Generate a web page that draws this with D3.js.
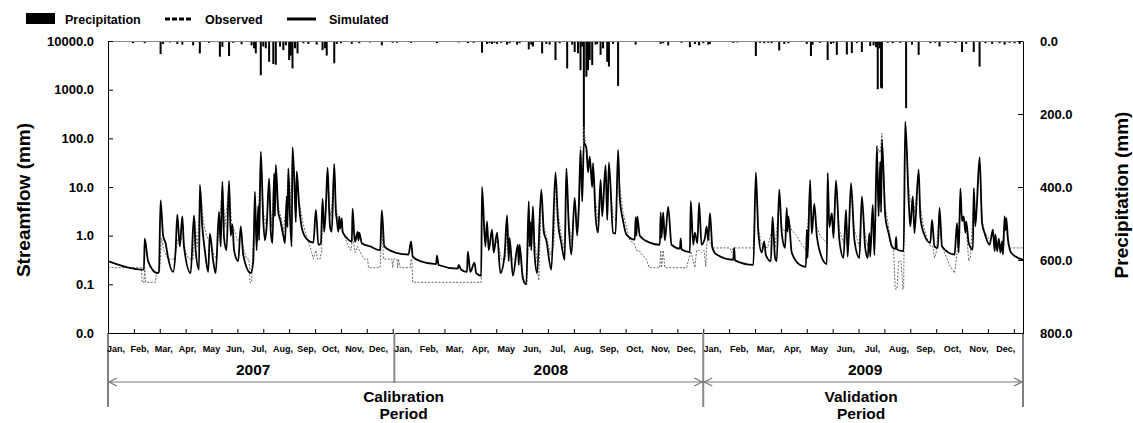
<!DOCTYPE html>
<html lang="en">
<head>
<meta charset="UTF-8">
<title>Streamflow</title>
<style>
    body { margin: 0; background: #fff; }
    svg text { font-family: Arial, "Liberation Sans", sans-serif; font-weight: bold; }
</style>
</head>
<body>
<svg width="1133" height="423"></svg>
<script src="https://cdn.jsdelivr.net/npm/d3@7"></script>
<script>
// day index, 0 = first day of 2007
var simulated = [
    [0,0.30],[42,0.20],[43,0.20],[44,0.87],[48,0.30],[59,0.17],[61,0.18],[63,5.3],[66,1.0],[69,0.7],[72,0.35],
    [78,0.18],[81,0.5],[83,2.7],[86,0.6],[89,2.5],[91,0.6],[99,0.17],[103,2.6],[105,0.5],[109,0.2],[110,11],
    [113,1.5],[116,0.5],[120,0.18],[122,1.1],[126,0.3],[129,0.17],[133,3.1],[135,0.6],[137,12.8],[139,0.9],
    [142,0.5],[145,13.4],[147,1.0],[149,1.7],[151,0.5],[156,0.3],[159,1.55],[162,0.4],[171,0.17],[174,0.3],
    [176,8],[178,0.5],[180,4.1],[181,0.8],[183,53],[186,2],[188,0.8],[190,1.5],[193,15],[195,1.2],[197,0.7],
    [199,19],[200,2.5],[201,28.6],[204,3],[206,2.2],[210,1.0],[212,0.7],[214,6.3],[215,1.5],[216,24],[218,2.5],
    [220,0.6],[221,65],[223,16],[225,1.9],[226,21],[229,4],[232,1.5],[237,0.9],[246,0.72],[249,3.4],[252,0.65],
    [255,0.7],[257,5.7],[259,1.2],[261,4],[263,25],[265,3],[266,1.5],[268,1.2],[271,30],[273,3],[274,2.2],
    [276,1.2],[277,2.5],[278,1.4],[280,2.3],[281,1.2],[286,0.9],[292,0.75],[293,3.6],[295,1.0],[296,0.75],
    [299,1.2],[300,0.8],[301,1.15],[304,0.7],[314,0.6],[326,0.5],[328,3.3],[331,0.6],[344,0.45],[360,0.41],
    [363,0.76],[365,0.37],[374,0.30],[393,0.26],[394,0.39],[396,0.25],[419,0.21],[420,0.25],[423,0.2],
    [430,0.18],[431,0.47],[434,0.18],[439,0.28],[441,0.17],[447,0.15],[448,10],[452,0.6],[454,1.97],[456,0.5],
    [460,1.33],[462,0.45],[466,1.15],[470,0.17],[475,0.4],[478,2.6],[480,0.3],[481,0.9],[485,0.15],[491,0.65],
    [492,0.25],[493,0.65],[497,0.13],[501,0.1],[504,5.1],[505,0.6],[506,1.9],[507,0.5],[509,4.0],[511,0.4],
    [514,0.17],[519,8.8],[522,1.2],[525,0.8],[531,0.2],[536,20],[539,2],[543,0.7],[547,0.32],[549,24],[552,1.5],
    [555,0.41],[559,6],[562,1.0],[564,4],[566,58],[568,5],[570,80],[573,64],[575,20],[577,42],[580,10],[581,31],
    [584,2.5],[587,1.15],[590,14],[592,2.5],[596,28],[598,2.1],[600,32],[605,1.15],[608,1.1],[611,58],[613,6],
    [617,2],[621,1.05],[631,0.83],[632,2.4],[633,1.0],[634,2.5],[637,1.0],[649,0.72],[661,0.65],[662,3.0],
    [663,0.9],[665,3.0],[667,0.8],[671,3.9],[675,0.65],[685,0.54],[686,0.88],[687,0.52],[697,0.46],[698,5.1],
    [701,0.65],[703,1.15],[706,0.7],[708,4.7],[711,0.65],[715,0.9],[717,1.55],[719,0.8],[721,2.9],[724,0.56],
    [729,0.41],[749,0.32],[750,0.56],[751,0.31],[773,0.25],[776,20],[779,1.15],[783,0.45],[786,0.76],[788,0.4],
    [794,0.30],[796,2.4],[799,0.35],[801,0.3],[804,8.8],[807,1.15],[811,0.56],[813,3.7],[814,1.2],[815,2.5],
    [819,0.45],[829,0.25],[836,0.23],[837,1.33],[838,0.35],[841,14],[843,1.1],[846,4.5],[849,1.0],[853,0.45],
    [861,0.26],[862,19.5],[864,1.5],[867,2.9],[869,0.9],[872,13.7],[876,0.83],[881,0.35],[884,3.4],[886,0.37],
    [890,12],[894,0.83],[900,0.35],[903,6.4],[907,0.56],[910,0.35],[912,1.13],[913,0.37],[916,4.3],[918,0.4],
    [921,70],[923,2.5],[925,33],[926,3],[927,94],[931,2.5],[935,1.13],[939,0.6],[943,0.53],[944,0.94],[945,0.52],
    [953,0.48],[955,220],[959,5.5],[961,1.55],[964,6.4],[966,1.13],[971,22.6],[973,2.5],[977,1.13],[985,0.71],
    [987,2.1],[990,0.6],[994,0.56],[996,3.7],[999,0.6],[1014,0.41],[1017,1.8],[1019,0.45],[1021,9.2],[1023,2],
    [1025,2.5],[1027,1.15],[1028,1.97],[1031,0.7],[1036,0.52],[1037,9.5],[1039,1.6],[1044,41],[1047,1.8],
    [1050,1.13],[1056,0.65],[1060,1.33],[1062,0.48],[1063,1.05],[1065,0.48],[1067,0.87],[1069,0.45],[1071,0.76],
    [1072,0.41],[1074,2.5],[1075,1.3],[1076,2.3],[1078,0.83],[1082,0.44],[1096,0.32]
]

var observed = [
    [0,0.11],[1,0.22],[40,0.22],[41,0.11],[43,0.11],[44,0.22],[45,0.11],[57,0.11],[58,0.17],[62,0.2],[64,0.9],
    [67,0.5],[70,0.4],[72,0.33],[80,0.33],[81,0.45],[84,0.9],[87,0.8],[90,0.95],[93,0.45],[97,0.33],[102,0.33],
    [104,2.0],[107,0.6],[111,8],[114,2],[118,1.0],[121,0.8],[124,0.6],[127,0.4],[130,0.33],[134,2.5],[137,10],
    [140,1.5],[145,11],[148,1.8],[150,1.5],[155,0.8],[159,1.0],[163,0.5],[166,0.33],[169,0.33],[170,0.11],
    [172,0.11],[173,0.3],[176,5],[178,0.8],[180,3],[183,40],[186,3],[190,1.5],[193,12],[196,1.5],[199,15],
    [201,25],[204,4],[207,2.5],[210,1.2],[214,5],[216,20],[218,3],[221,60],[223,18],[225,3],[226,15],[229,5],
    [233,2],[238,0.9],[242,0.6],[244,0.45],[246,0.33],[249,0.5],[251,0.33],[254,0.33],[256,0.5],[257,3],
    [259,1.5],[261,3],[263,20],[265,4],[267,2.5],[271,25],[273,4],[276,2],[280,1.5],[284,0.9],[288,0.6],
    [291,0.5],[293,0.9],[296,0.45],[299,0.6],[301,0.5],[304,0.4],[307,0.33],[311,0.33],[312,0.22],[326,0.22],
    [328,1.5],[330,0.33],[340,0.33],[341,0.22],[342,0.33],[346,0.33],[347,0.22],[348,0.33],[350,0.22],
    [362,0.22],[363,0.33],[364,0.33],[365,0.11],[447,0.11],[448,6],[451,1.0],[454,1.5],[456,0.7],[460,1.0],
    [463,0.6],[466,0.8],[469,0.5],[471,0.33],[476,0.33],[478,2.0],[481,0.7],[484,0.33],[488,0.33],[491,0.45],
    [493,0.4],[496,0.2],[499,0.1],[502,0.1],[504,3],[506,1.5],[509,3],[511,0.8],[514,0.3],[516,0.12],[519,6],
    [522,1.5],[525,1.0],[530,0.4],[534,0.6],[536,12],[539,3],[543,1.0],[547,0.5],[549,15],[552,2],[555,0.7],
    [559,5],[562,1.5],[564,5],[566,70],[568,8],[570,170],[573,50],[575,25],[577,35],[580,12],[581,25],[584,5],
    [587,2],[590,12],[592,4],[596,25],[598,4],[600,25],[605,2.5],[608,2],[611,40],[613,10],[617,3],[621,1.5],
    [625,0.8],[630,0.7],[633,0.5],[636,0.5],[640,0.4],[645,0.33],[648,0.22],[661,0.22],[662,0.5],[663,0.22],
    [665,0.5],[667,0.22],[693,0.22],[698,0.48],[703,0.22],[705,0.5],[708,0.5],[711,0.45],[714,0.5],[716,0.23],
    [717,0.6],[719,1.2],[721,0.7],[724,0.56],[745,0.56],[747,0.45],[749,0.56],[773,0.56],[776,12],[779,1.5],
    [782,0.7],[786,0.6],[790,0.56],[796,1.5],[799,0.56],[804,5],[807,1.5],[811,1.2],[813,2.5],[815,2.0],
    [819,1.3],[825,1.0],[830,0.7],[836,0.5],[837,0.8],[841,9],[843,2],[846,3],[849,1.5],[853,1.0],[861,0.7],
    [862,15],[864,2.5],[867,2.5],[869,1.5],[872,10],[876,1.3],[881,0.7],[884,2.5],[887,0.8],[890,9],[894,1.3],
    [900,0.6],[903,5],[907,1.0],[910,0.6],[912,1.0],[913,0.6],[916,3.5],[918,0.6],[921,40],[923,60],[925,50],
    [927,128],[931,4],[935,1.5],[939,0.6],[941,0.5],[943,0.08],[945,0.08],[947,0.3],[950,0.3],[952,0.08],
    [953,0.08],[955,200],[959,10],[961,5],[964,6],[966,3],[971,18],[973,4],[977,1.5],[982,0.8],[985,0.6],
    [988,0.6],[990,0.35],[992,0.45],[996,3],[999,0.6],[1003,0.4],[1008,0.25],[1014,0.17],[1017,0.45],[1021,5],
    [1023,2],[1025,2],[1028,1.5],[1031,0.3],[1033,0.35],[1037,6],[1039,1.5],[1044,30],[1047,2],[1050,1.2],
    [1056,0.8],[1060,1.0],[1063,0.8],[1067,0.7],[1071,0.6],[1074,1.5],[1076,1.5],[1078,0.8],[1080,0.56],[1096,0.56]
]

// daily rain (mm)
var precipitation = [
    [30,6],[44,6],[63,36],[66,8],[74,4],[83,8],[89,10],[102,12],[110,34],[121,5],[134,43],[137,16],[145,41],
    [150,5],[160,9],[172,12],[175,20],[177,34],[183,94],[186,15],[189,20],[193,57],[198,63],[201,65],[206,15],
    [210,25],[213,12],[217,52],[219,40],[221,75],[224,20],[227,34],[234,6],[240,8],[250,10],[257,25],[260,20],
    [262,40],[271,61],[274,8],[279,6],[292,8],[301,6],[314,4],[328,12],[341,5],[346,5],[363,5],
    [394,6],[420,4],[431,6],[438,5],[448,32],[454,8],[457,6],[460,8],[463,5],[466,8],[471,5],[478,10],[481,6],
    [490,10],[493,6],[504,23],[507,10],[509,15],[520,34],[525,8],[529,10],[536,52],[541,6],[550,75],[556,10],
    [559,30],[563,34],[566,80],[568,15],[570,280],[573,98],[575,80],[577,52],[580,66],[584,10],[586,8],[590,38],
    [593,20],[598,57],[600,70],[605,8],[611,123],[632,10],[662,8],[665,6],[671,12],[687,5],[697,17],[703,8],
    [708,12],[713,6],[719,10],[721,8],[749,5],[754,4],
    [776,41],[781,5],[786,6],[791,5],[795,6],[804,26],[810,8],[815,6],[837,8],[842,41],[844,10],[853,5],
    [862,52],[866,8],[869,6],[873,38],[885,37],[891,33],[897,6],[903,30],[913,14],[917,12],[920,17],[922,132],
    [924,20],[926,128],[927,130],[934,5],[940,6],[949,5],[956,184],[963,10],[971,38],[985,6],[991,5],[996,15],
    [1006,5],[1015,6],[1023,30],[1028,8],[1037,30],[1044,70],[1051,6],[1059,8],[1068,6],[1074,10],[1080,5],
    [1086,6],[1092,8]
]

var flowTicks = [0.01, 0.1, 1, 10, 100, 1000, 10000]
var rainTicks = [0, 200, 400, 600, 800]
var months = ['Jan,', 'Feb,', 'Mar,', 'Apr,', 'May', 'Jun,', 'Jul,', 'Aug,', 'Sep,', 'Oct,', 'Nov,', 'Dec,']
var years = ['2007', '2008', '2009']
var yearBounds = [0, 343, 713, 1096]
var periodNames = [['Calibration', 'Period'], ['Validation', 'Period']]
var periodBounds = [0, 713, 1096]

var svg = d3.select('svg')
var pL = 108, pR = 1023, pT = 41, pB = 333, pLow = 407

var x = d3.scaleLinear().domain([0, 1096]).range([pL, pR])
var yFlow = d3.scaleLog().domain([0.01, 10000]).range([pB, pT])
var yRain = d3.scaleLinear().domain([0, 800]).range([pT, pB])

svg.append('clipPath').attr('id', 'plot')
    .append('rect').attr('x', pL).attr('y', pT).attr('width', pR - pL).attr('height', pB - pT)

// rain hangs from the top
svg.append('g')
    .selectAll('rect')
    .data(precipitation)
    .enter()
    .append('rect')
    .attr('x', d => x(d[0]) - 1)
    .attr('y', pT)
    .attr('width', 2)
    .attr('height', d => yRain(d[1]) - pT)
    .attr('fill', '#000')

var line = d3.line().x(d => x(d[0])).y(d => yFlow(d[1]))
var smooth = d3.line().x(d => x(d[0])).y(d => yFlow(d[1])).curve(d3.curveMonotoneX)

svg.append('path')
    .datum(observed)
    .attr('clip-path', 'url(#plot)')
    .attr('d', line)
    .attr('fill', 'none')
    .attr('stroke', '#666')
    .attr('stroke-width', 1)
    .attr('stroke-dasharray', '2,1.5')

svg.append('path')
    .datum(simulated)
    .attr('clip-path', 'url(#plot)')
    .attr('d', smooth)
    .attr('fill', 'none')
    .attr('stroke', '#000')
    .attr('stroke-width', 1.8)
    .attr('stroke-linejoin', 'round')

// frame
svg.append('line').attr('x1', pL).attr('x2', pR).attr('y1', pT + 0.5).attr('y2', pT + 0.5)
    .attr('stroke', '#888').attr('stroke-width', 1)

var yLeft = svg.append('g')
    .attr('transform', 'translate(' + pL + ',0)')
    .call(d3.axisLeft(yFlow).tickValues(flowTicks).tickFormat(d3.format('.1f'))
        .tickSizeInner(-5).tickSizeOuter(0).tickPadding(14))
yLeft.selectAll('text').style('font-size', '13px')

var yRight = svg.append('g')
    .attr('transform', 'translate(' + pR + ',0)')
    .call(d3.axisRight(yRain).tickValues(rainTicks).tickFormat(d3.format('.1f'))
        .tickSizeInner(-5).tickSizeOuter(0).tickPadding(17))
yRight.selectAll('text').style('font-size', '13px')

svg.append('g')
    .attr('transform', 'translate(0,' + pB + ')')
    .call(d3.axisBottom(x).tickValues(d3.range(0, 1096, 31)).tickFormat('')
        .tickSizeInner(-4).tickSizeOuter(0))

// long verticals under the axis
svg.append('line').attr('x1', pL).attr('x2', pL).attr('y1', pB).attr('y2', pLow).attr('stroke', '#000')
svg.append('line').attr('x1', pR).attr('x2', pR).attr('y1', pB).attr('y2', pLow).attr('stroke', '#000')
svg.append('line').attr('x1', x(yearBounds[1])).attr('x2', x(yearBounds[1]))
    .attr('y1', pB).attr('y2', 383).attr('stroke', '#888').attr('stroke-width', 2)
svg.append('line').attr('x1', x(yearBounds[2])).attr('x2', x(yearBounds[2]))
    .attr('y1', pB).attr('y2', pLow).attr('stroke', '#888').attr('stroke-width', 2)

// month names
years.forEach(function(yr, k) {
    var s = x(yearBounds[k]), e = x(yearBounds[k + 1])
    var step = (e - s) / 12
    svg.append('g').selectAll('text')
        .data(months)
        .enter()
        .append('text')
        .attr('x', (d, i) => s + (i + 0.5) * step - 4)
        .attr('y', 352)
        .attr('text-anchor', 'middle')
        .style('font-size', '9px')
        .text(d => d)
    svg.append('text')
        .attr('x', (s + e) / 2 + 2)
        .attr('y', 375)
        .attr('text-anchor', 'middle')
        .style('font-size', '15.5px')
        .text(yr)
})

// period arrows
var arrowY = 382
periodNames.forEach(function(names, k) {
    var s = x(periodBounds[k]), e = x(periodBounds[k + 1])
    svg.append('line').attr('x1', s).attr('x2', e).attr('y1', arrowY).attr('y2', arrowY)
        .attr('stroke', '#777').attr('stroke-width', 1.2)
    svg.append('path')
        .attr('d', 'M' + (s + 9) + ',' + (arrowY - 4) + 'L' + (s + 1) + ',' + arrowY + 'L' + (s + 9) + ',' + (arrowY + 4)
            + 'M' + (e - 9) + ',' + (arrowY - 4) + 'L' + (e - 1) + ',' + arrowY + 'L' + (e - 9) + ',' + (arrowY + 4))
        .attr('fill', 'none').attr('stroke', '#777').attr('stroke-width', 1.2)
    svg.append('text')
        .attr('x', (s + e) / 2 - 2)
        .attr('y', 402)
        .attr('text-anchor', 'middle')
        .style('font-size', '15.5px')
        .text(names[0])
    svg.append('text')
        .attr('x', (s + e) / 2 - 2)
        .attr('y', 419)
        .attr('text-anchor', 'middle')
        .style('font-size', '15.5px')
        .text(names[1])
})

// axis titles
svg.append('text')
    .attr('transform', 'translate(30,200) rotate(-90)')
    .attr('text-anchor', 'middle')
    .style('font-size', '19px')
    .text('Streamflow (mm)')
svg.append('text')
    .attr('transform', 'translate(1128,195) rotate(-90)')
    .attr('text-anchor', 'middle')
    .style('font-size', '19px')
    .text('Precipitation (mm)')

// legend
var lg = svg.append('g')
lg.append('rect').attr('x', 26).attr('y', 13).attr('width', 29).attr('height', 11).attr('fill', '#000')
lg.append('text').attr('x', 65).attr('y', 24).style('font-size', '12.5px').text('Precipitation')
lg.append('line').attr('x1', 165).attr('x2', 192).attr('y1', 19).attr('y2', 19)
    .attr('stroke', '#000').attr('stroke-width', 3).attr('stroke-dasharray', '5,2')
lg.append('text').attr('x', 205).attr('y', 24).style('font-size', '12.5px').text('Observed')
lg.append('line').attr('x1', 287).attr('x2', 316).attr('y1', 19).attr('y2', 19)
    .attr('stroke', '#000').attr('stroke-width', 3)
lg.append('text').attr('x', 329).attr('y', 24).style('font-size', '12.5px').text('Simulated')
</script>
</body>
</html>
